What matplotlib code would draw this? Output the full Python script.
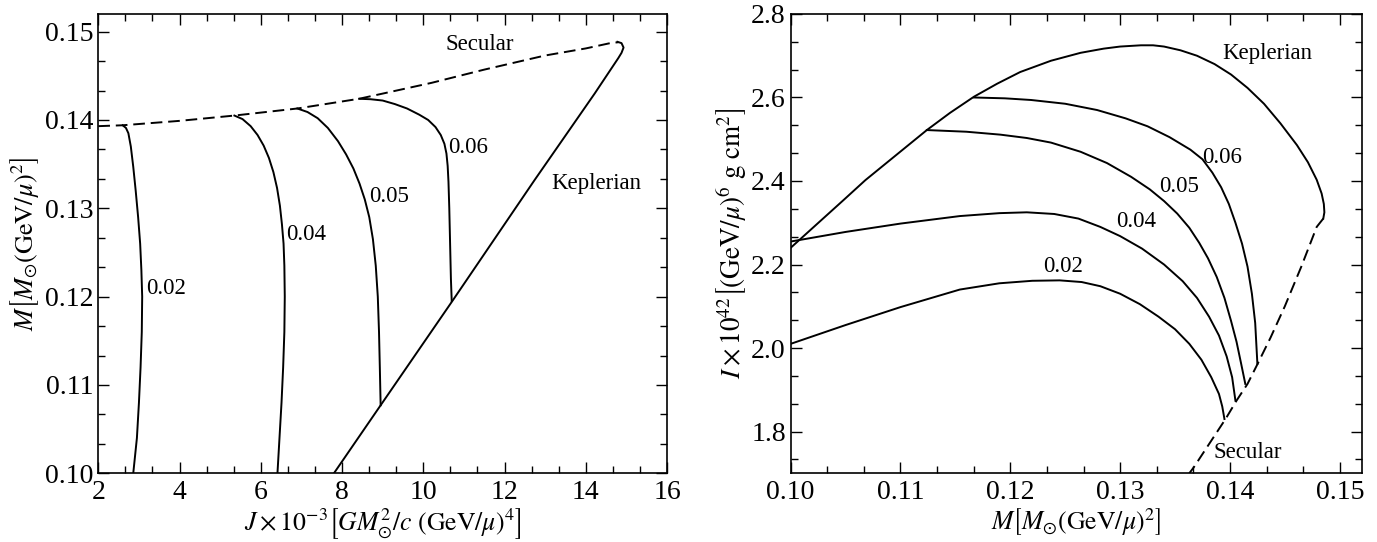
import numpy as np
import matplotlib
matplotlib.use("Agg")
import matplotlib.pyplot as plt
from matplotlib.ticker import MultipleLocator, AutoMinorLocator, FormatStrFormatter

plt.rcParams['font.family'] = ['Liberation Serif', 'DejaVu Serif']
plt.rcParams['mathtext.fontset'] = 'stix'
plt.rcParams['font.size'] = 16

# ---- left panel: M vs J ----
sec_J = [2.0, 2.6, 4.0, 5.35, 6.9, 8.42, 10.2, 11.5, 13.0, 14.0, 14.6, 14.8]
sec_M = [0.1393, 0.1394, 0.1399, 0.1405, 0.1413, 0.1424, 0.1442, 0.1457, 0.1473, 0.1481, 0.1487, 0.1488]

kep_J = [14.78, 14.88, 14.93, 14.88, 14.80, 14.22, 12.74, 10.70, 8.95, 7.80]
kep_M = [0.14885, 0.1487, 0.1482, 0.1476, 0.1470, 0.1430, 0.1332, 0.1194, 0.1077, 0.100]

j002 = [2.60, 2.68, 2.74, 2.80, 2.86, 2.92, 2.98, 3.03, 3.06, 3.08, 3.07, 3.04, 3.00, 2.95, 2.86]
m002 = [0.1394, 0.1391, 0.1385, 0.1370, 0.1347, 0.1320, 0.1290, 0.1260, 0.1230, 0.1200,
        0.1160, 0.1120, 0.1080, 0.1040, 0.100]
j004 = [5.35, 5.55, 5.75, 5.92, 6.07, 6.20, 6.31, 6.40, 6.47, 6.52, 6.56, 6.58, 6.59, 6.58,
        6.55, 6.51, 6.46, 6.41]
m004 = [0.1405, 0.1401, 0.1393, 0.1383, 0.1371, 0.1357, 0.1341, 0.1323, 0.1303, 0.1282,
        0.1260, 0.1235, 0.1200, 0.1160, 0.1120, 0.1080, 0.1040, 0.100]
j005 = [6.90, 7.15, 7.40, 7.65, 7.90, 8.10, 8.28, 8.43, 8.56, 8.67, 8.76, 8.83, 8.88, 8.91, 8.93, 8.95]
m005 = [0.1413, 0.1409, 0.1402, 0.1391, 0.1376, 0.1361, 0.1345, 0.1328, 0.1310, 0.1290,
        0.1265, 0.1235, 0.1200, 0.1160, 0.1120, 0.1077]
j006 = [8.42, 8.70, 9.00, 9.30, 9.60, 9.90, 10.12, 10.30, 10.43, 10.52, 10.57, 10.60, 10.62,
        10.64, 10.66, 10.68, 10.70]
m006 = [0.1424, 0.14235, 0.1422, 0.1418, 0.1413, 0.1406, 0.1400, 0.1392, 0.1383, 0.1373,
        0.1362, 0.1348, 0.1330, 0.1300, 0.1260, 0.1220, 0.1195]

# ---- right panel: I vs M ----
kepR_M = [0.100, 0.1024, 0.1048, 0.1068, 0.1096, 0.1124, 0.1145, 0.1167, 0.1188, 0.1209,
          0.1237, 0.1264, 0.1285, 0.1300, 0.1319, 0.1330, 0.1340, 0.1355, 0.1370, 0.1386,
          0.1401, 0.1416, 0.1431, 0.1446, 0.1461, 0.1471, 0.1479, 0.14835, 0.14855, 0.1486, 0.1485]
kepR_I = [2.240, 2.297, 2.354, 2.402, 2.462, 2.522, 2.563, 2.602, 2.633, 2.661,
          2.688, 2.707, 2.717, 2.722, 2.725, 2.725, 2.722, 2.713, 2.700, 2.680,
          2.655, 2.623, 2.585, 2.538, 2.486, 2.445, 2.403, 2.370, 2.345, 2.325, 2.310]
secR_M = [0.1485, 0.1479, 0.1465, 0.1450, 0.1437, 0.1425, 0.1416, 0.1406, 0.1396, 0.1381, 0.1367, 0.1363]
secR_I = [2.310, 2.290, 2.195, 2.100, 2.025, 1.961, 1.914, 1.874, 1.830, 1.770, 1.714, 1.700]

r002_M = [0.100, 0.105, 0.110, 0.1154, 0.1190, 0.1220, 0.1245, 0.1265, 0.1282, 0.1300,
          0.1318, 0.1335, 0.1350, 0.1363, 0.1374, 0.1383, 0.1390, 0.1393, 0.1395]
r002_I = [2.010, 2.055, 2.098, 2.140, 2.155, 2.161, 2.162, 2.158, 2.148, 2.130,
          2.105, 2.075, 2.045, 2.010, 1.972, 1.930, 1.890, 1.860, 1.830]
r004_M = [0.100, 0.105, 0.110, 0.1154, 0.1190, 0.1215, 0.1240, 0.1262, 0.1282, 0.1300,
          0.1320, 0.1340, 0.1357, 0.1370, 0.1381, 0.1390, 0.1397, 0.1402, 0.1405]
r004_I = [2.255, 2.278, 2.298, 2.316, 2.323, 2.325, 2.321, 2.310, 2.290, 2.268,
          2.238, 2.200, 2.160, 2.120, 2.075, 2.030, 1.980, 1.930, 1.874]
r005_M = [0.1124, 0.1160, 0.1191, 0.1215, 0.1237, 0.1264, 0.1288, 0.1310, 0.1327, 0.1340,
          0.1352, 0.1363, 0.1372, 0.1380, 0.1388, 0.1395, 0.1401, 0.1406, 0.1410, 0.1414]
r005_I = [2.522, 2.518, 2.511, 2.503, 2.492, 2.470, 2.443, 2.410, 2.380, 2.352,
          2.322, 2.288, 2.252, 2.215, 2.170, 2.120, 2.065, 2.015, 1.965, 1.914]
r006_M = [0.1167, 0.1195, 0.1219, 0.1250, 0.1279, 0.1305, 0.1325, 0.1345, 0.1364, 0.1375,
          0.1384, 0.1392, 0.1399, 0.1405, 0.1411, 0.1416, 0.1420, 0.1423, 0.1425]
r006_I = [2.600, 2.598, 2.594, 2.585, 2.570, 2.550, 2.531, 2.505, 2.475, 2.452,
          2.420, 2.385, 2.345, 2.300, 2.250, 2.195, 2.130, 2.060, 1.962]

lw = 1.4
fig = plt.figure(figsize=(13.77, 5.42), dpi=100)
ax1 = fig.add_axes([0.0714, 0.1268, 0.4130, 0.8474])
ax2 = fig.add_axes([0.5742, 0.1268, 0.4147, 0.8474])

ax1.plot(sec_J, sec_M, 'k--', lw=lw, dashes=(6, 3))
ax1.plot(kep_J, kep_M, 'k-', lw=lw)
for jj, mm in [(j002, m002), (j004, m004), (j005, m005), (j006, m006)]:
    ax1.plot(jj, mm, 'k-', lw=lw)
fs = 16.5
ax1.text(11.4, 0.1485, 'Secular', ha='center', va='center', fontsize=fs)
ax1.text(14.25, 0.1328, 'Keplerian', ha='center', va='center', fontsize=fs)
ax1.text(3.18, 0.1209, '0.02', ha='left', va='center', fontsize=fs)
ax1.text(6.62, 0.1270, '0.04', ha='left', va='center', fontsize=fs)
ax1.text(8.66, 0.1313, '0.05', ha='left', va='center', fontsize=fs)
ax1.text(10.60, 0.1369, '0.06', ha='left', va='center', fontsize=fs)
ax1.set_xlim(2, 16)
ax1.set_ylim(0.10, 0.152)
ax1.xaxis.set_major_locator(MultipleLocator(2))
ax1.yaxis.set_major_locator(MultipleLocator(0.01))
ax1.yaxis.set_major_formatter(FormatStrFormatter('%.2f'))
ax1.set_xlabel(r'$J\times10^{-3}\left[GM_{\odot}^{2}/c\ (\mathrm{GeV}/\mu)^{4}\right]$', fontsize=18.5, labelpad=1)
ax1.set_ylabel(r'$M\left[M_{\odot}(\mathrm{GeV}/\mu)^{2}\right]$', fontsize=19, labelpad=3)

ax2.plot(kepR_M, kepR_I, 'k-', lw=lw)
ax2.plot(secR_M, secR_I, 'k--', lw=lw, dashes=(6, 3))
for mm, ii in [(r002_M, r002_I), (r004_M, r004_I), (r005_M, r005_I), (r006_M, r006_I)]:
    ax2.plot(mm, ii, 'k-', lw=lw)
ax2.text(0.1434, 2.705, 'Keplerian', ha='center', va='center', fontsize=fs)
ax2.text(0.1416, 1.750, 'Secular', ha='center', va='center', fontsize=fs)
ax2.text(0.1393, 2.457, '0.06', ha='center', va='center', fontsize=fs)
ax2.text(0.1354, 2.387, '0.05', ha='center', va='center', fontsize=fs)
ax2.text(0.1315, 2.304, '0.04', ha='center', va='center', fontsize=fs)
ax2.text(0.1248, 2.195, '0.02', ha='center', va='center', fontsize=fs)
ax2.set_xlim(0.10, 0.152)
ax2.set_ylim(1.7, 2.8)
ax2.xaxis.set_major_locator(MultipleLocator(0.01))
ax2.yaxis.set_major_locator(MultipleLocator(0.2))
ax2.xaxis.set_major_formatter(FormatStrFormatter('%.2f'))
ax2.yaxis.set_major_formatter(FormatStrFormatter('%.1f'))
ax2.set_xlabel(r'$M\left[M_{\odot}(\mathrm{GeV}/\mu)^{2}\right]$', fontsize=18.5, labelpad=1)
ax2.set_ylabel(r'$I\times10^{42}\left[(\mathrm{GeV}/\mu)^{6}\ \mathrm{g\ cm}^{2}\right]$', fontsize=19.5, labelpad=2)

for ax in (ax1, ax2):
    ax.xaxis.set_minor_locator(AutoMinorLocator(3))
    ax.yaxis.set_minor_locator(AutoMinorLocator(3))
    ax.tick_params(which='both', direction='in', top=True, right=True, width=1.0, labelsize=20)
    ax.tick_params(which='major', length=8)
    ax.tick_params(which='minor', length=5)
    ax.tick_params(axis='x', which='major', pad=5)
    for s in ax.spines.values():
        s.set_linewidth(1.2)

fig.savefig('out.png', dpi=100)
